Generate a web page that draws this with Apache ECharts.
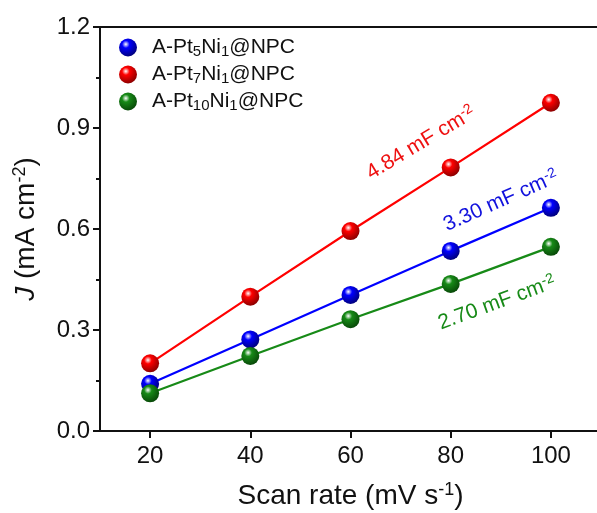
<!DOCTYPE html>
<html lang="en">
<head>
	<meta charset="UTF-8">
	<title>Cdl</title>
	<script src="https://cdn.jsdelivr.net/npm/echarts@6/dist/echarts.min.js"></script>
</head>
<body style="margin:0;background:#fff">
	<div id="chart" style="width:597px;height:513px"></div>

	<script>
		// scan rate (mV/s)
		var scanRates = [20, 40, 60, 80, 100];
		var jPt5 = [0.140, 0.272, 0.404, 0.535, 0.663];
		var jPt7 = [0.201, 0.399, 0.594, 0.783, 0.975];
		var jPt10 = [0.112, 0.223, 0.332, 0.437, 0.547];
		var xTicks = [20, 40, 60, 80, 100];
		var names = ['A-Pt5Ni1@NPC', 'A-Pt7Ni1@NPC', 'A-Pt10Ni1@NPC'];
		var legendRich = {
			'A-Pt5Ni1@NPC': '{g|}A-Pt{s|5}Ni{s|1}@NPC',
			'A-Pt7Ni1@NPC': '{g|}A-Pt{s|7}Ni{s|1}@NPC',
			'A-Pt10Ni1@NPC': '{g|}A-Pt{s|10}Ni{s|1}@NPC'
		};

		var font = 'Liberation Sans';

		function ball(c, dark) {
			return {
				type: 'radial', x: 0.38, y: 0.32, r: 0.7,
				colorStops: [
					{offset: 0, color: '#ffffff'},
					{offset: 0.3, color: c},
					{offset: 1, color: dark}
				]
			};
		}

		function pairs(ys) {
			return scanRates.map(function (x, i) { return [x, ys[i]]; });
		}

		function mkSeries(name, ys, color, dark) {
			return {
				name: name,
				type: 'line',
				data: pairs(ys),
				symbol: 'circle',
				symbolSize: 18,
				lineStyle: {color: color, width: 2.2},
				itemStyle: {color: ball(color, dark)},
				z: 3
			};
		}

		function note(txt, x, y, deg, color) {
			return {
				type: 'text', x: x, y: y, rotation: deg * Math.PI / 180,
				style: {
					text: txt + ' mF cm{s|-2}', align: 'center', verticalAlign: 'middle',
					fontFamily: font, fontSize: 21, fill: color,
					rich: {s: {fontFamily: font, fontSize: 14, fill: color, padding: [0, 0, 9, 0]}}
				}
			};
		}

		var chart = echarts.init(document.getElementById('chart'));
		var option = {
			backgroundColor: '#fff',
			animation: false,
			grid: {left: 100, right: -4, top: 27, bottom: 82, outerBoundsMode: 'none', containLabel: false},
			legend: {
				left: 114, top: 32,
				orient: 'vertical',
				itemGap: 5,
				itemWidth: 18, itemHeight: 18,
				icon: 'circle',
				data: names,
				formatter: function (n) { return legendRich[n]; },
				textStyle: {
					fontFamily: font, fontSize: 21, color: '#111',
					rich: {
						g: {width: 10},
						s: {fontFamily: font, fontSize: 15, color: '#111', padding: [8, 0, 0, 0]}
					}
				}
			},
			xAxis: [{
				type: 'value', min: 10, max: 110, interval: 10,
				name: 'Scan rate (mV s{s|-1})',
				nameLocation: 'middle', nameGap: 50,
				nameTextStyle: {
					fontFamily: font, fontSize: 28, color: '#111',
					rich: {s: {fontFamily: font, fontSize: 18, color: '#111', padding: [0, 0, 13, 0]}}
				},
				axisLine: {lineStyle: {color: '#111', width: 2}},
				axisTick: {inside: false, length: 7, customValues: xTicks, lineStyle: {width: 2, color: '#111'}},
				splitLine: {show: false},
				axisLabel: {
					fontFamily: font, fontSize: 24, color: '#111', margin: 13,
					customValues: xTicks
				}
			}, {
				type: 'value', min: 10, max: 110, position: 'top',
				axisLine: {show: true, lineStyle: {color: '#111', width: 2}},
				axisTick: {show: false}, axisLabel: {show: false}, splitLine: {show: false}
			}],
			yAxis: {
				type: 'value', min: 0, max: 1.2, interval: 0.3,
				name: '{i|J} (mA cm{s|-2})',
				nameLocation: 'middle', nameGap: 58,
				nameTextStyle: {
					fontFamily: font, fontSize: 28, color: '#111',
					rich: {
						i: {fontFamily: font, fontSize: 28, fontStyle: 'italic', color: '#111'},
						s: {fontFamily: font, fontSize: 18, color: '#111', padding: [0, 0, 13, 0]}
					}
				},
				axisLine: {show: true, lineStyle: {color: '#111', width: 2}},
				axisTick: {inside: false, length: 7, lineStyle: {width: 2, color: '#111'}},
				minorTick: {show: true, splitNumber: 2, length: 4, lineStyle: {width: 2, color: '#111'}},
				splitLine: {show: false},
				axisLabel: {
					fontFamily: font, fontSize: 24, color: '#111', margin: 10,
					formatter: function (v) { return v.toFixed(1); }
				}
			},
			series: [
				mkSeries(names[0], jPt5, '#0000ff', '#00007a'),
				mkSeries(names[1], jPt7, '#ff0000', '#8a0000'),
				mkSeries(names[2], jPt10, '#178a17', '#084808')
			],
			graphic: [
				note('4.84', 421, 143, 31, '#ee1111'),
				note('3.30', 501, 201, 24, '#1111dd'),
				note('2.70', 497, 303, 20, '#178a17')
			]
		};
		chart.setOption(option);
	</script>
</body>
</html>
